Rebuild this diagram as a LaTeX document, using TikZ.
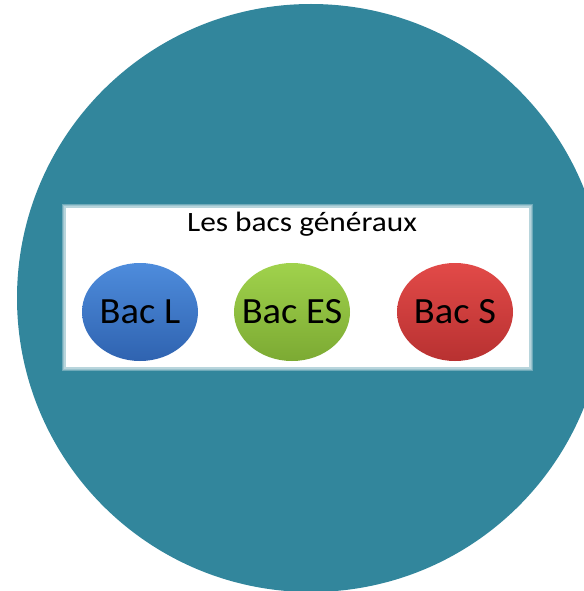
\documentclass[tikz,border=0pt]{standalone}
\usepackage{fontspec}
\setmainfont{Carlito}
\usetikzlibrary{shapes.geometric}
\definecolor{fond}{HTML}{32869C}
\definecolor{bleuH}{HTML}{4E8CDC}
\definecolor{bleuB}{HTML}{2F63B0}
\definecolor{vertH}{HTML}{A0D24C}
\definecolor{vertB}{HTML}{7CAA33}
\definecolor{rougeH}{HTML}{E24A48}
\definecolor{rougeB}{HTML}{B83131}
\newcommand{\bactxt}[1]{\makebox[0pt]{\scalebox{1.04}[1]{#1}}}
\tikzset{bac/.style={ellipse,minimum width=116pt,minimum height=98pt,inner sep=0pt,
  font=\fontsize{37}{40}\selectfont}}
\begin{document}
\begin{tikzpicture}[x=1pt,y=-1pt]%bacs generaux
\useasboundingbox (0,0) rectangle (583,591);
\fill[fond] (311,298) circle (294);
\foreach \d in {3,2,1} {\fill[white,opacity=.3] (65-\d,207-\d) rectangle (530+\d,368+\d);}
\fill[white] (66,208) rectangle (529,367);
\node (titre) at (302,224) {\fontsize{28}{30}\selectfont\scalebox{1.12}[1]{Les bacs généraux}};
\node[bac,top color=bleuH,bottom color=bleuB] (bacL) at (140,312) {\bactxt{Bac L}};
\node[bac,top color=vertH,bottom color=vertB] (bacES) at (292,312) {\bactxt{Bac ES}};
\node[bac,top color=rougeH,bottom color=rougeB] (bacS) at (455,312) {\bactxt{Bac S}};
\end{tikzpicture}
\end{document}
